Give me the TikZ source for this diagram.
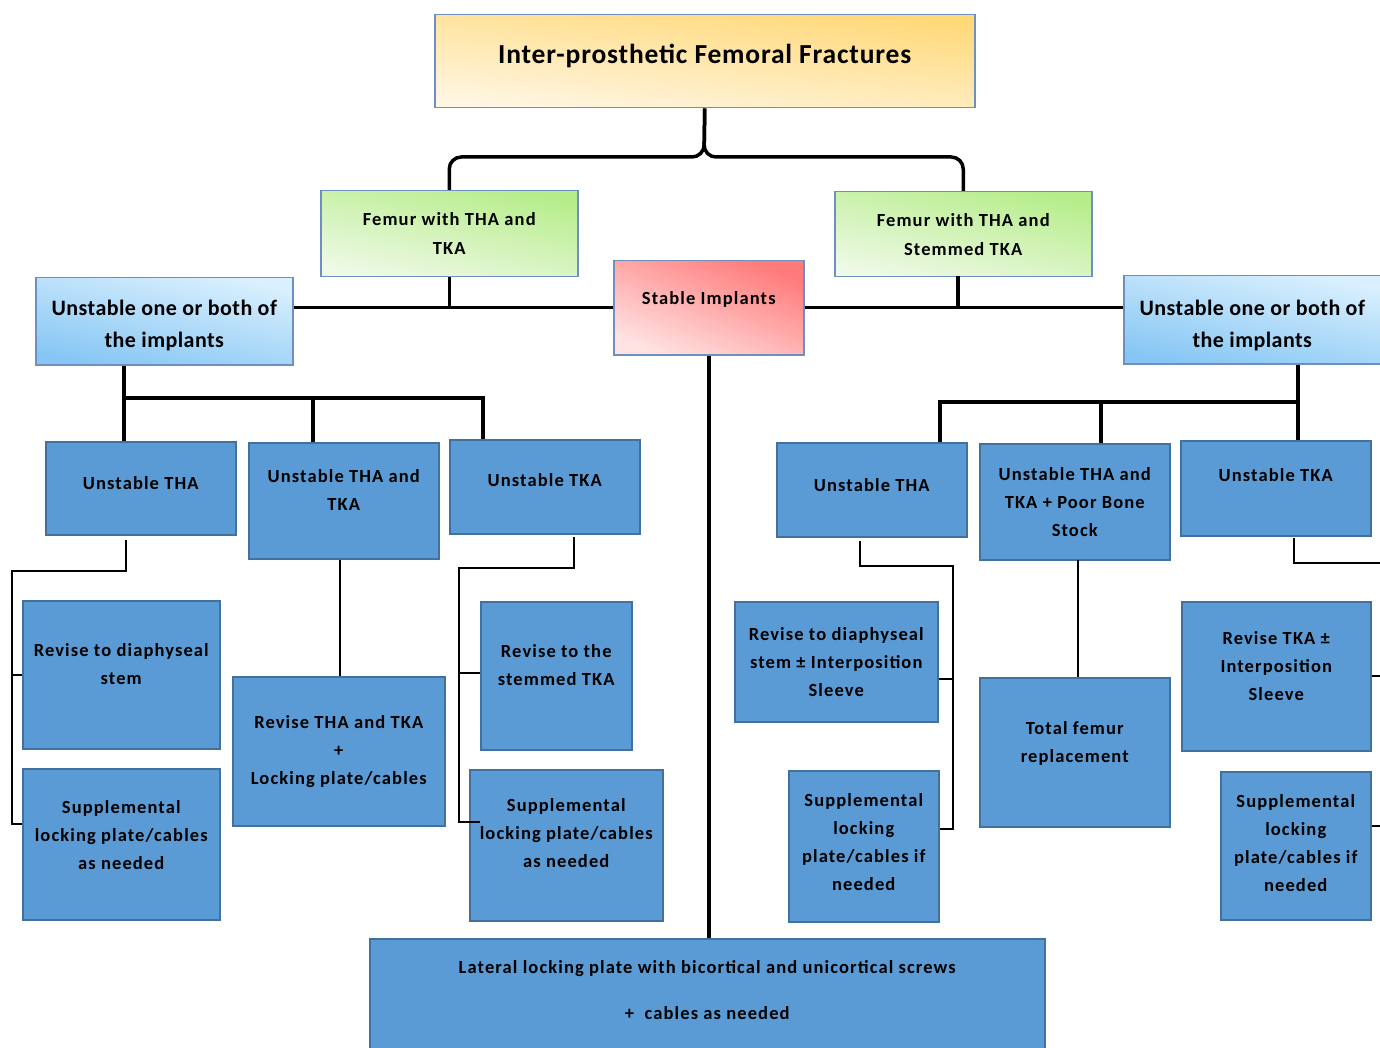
\documentclass[tikz,border=0pt]{standalone}
\usepackage{fontspec}
\setmainfont{Carlito}[LetterSpace=6]
\newfontfamily\titlefont{Carlito}[LetterSpace=3]
\newfontfamily\headfont{Carlito}[LetterSpace=2]
\definecolor{boxblue}{HTML}{5B9BD5}
\definecolor{boxborder}{HTML}{41719C}
\definecolor{gradborder}{HTML}{6F8FC0}
\definecolor{titletop}{HTML}{FFD877}
\definecolor{titlebot}{HTML}{FFF6E4}
\definecolor{greentop}{HTML}{B6ED8A}
\definecolor{greenbot}{HTML}{EEF9E6}
\definecolor{redtop}{HTML}{FF7A7A}
\definecolor{redbot}{HTML}{FFE2E2}
\definecolor{bluetop}{HTML}{DAF0FE}
\definecolor{bluebot}{HTML}{86C6F4}
\begin{document}
\begin{tikzpicture}[x=1pt,y=-1pt,
  bx/.style={rectangle, draw=boxborder, line width=1.5pt, fill=boxblue, anchor=north west,
    inner sep=1pt, align=center, font=\bfseries\fontsize{18.5}{28}\selectfont},
  grad/.style={rectangle, draw=gradborder, line width=1.5pt, anchor=north west,
    inner sep=1pt, align=center, font=\bfseries\fontsize{18.5}{29}\selectfont},
  thk/.style={line width=3.5pt, black},
  thn/.style={line width=2.5pt, black}]
\clip (0,0) rectangle (1380,1048);
\fill[white] (0,0) rectangle (1380,1048);

% top level
\node[grad, top color=titletop, bottom color=titlebot, shading angle=-6,
  minimum width=540pt, minimum height=93pt, text depth=14pt,
  font=\titlefont\bfseries\fontsize{27.5}{32}\selectfont] (title) at (434,14) {Inter-prosthetic Femoral Fractures};
\node[grad, top color=greentop, bottom color=greenbot, shading angle=-12,
  minimum width=257pt, minimum height=86pt] (gL) at (320,190) {Femur with THA and\\TKA};
\node[grad, top color=greentop, bottom color=greenbot, shading angle=-12,
  minimum width=257pt, minimum height=85pt] (gR) at (834,191) {Femur with THA and\\Stemmed TKA};
\node[grad, top color=redtop, bottom color=redbot, shading angle=-22,
  minimum width=190pt, minimum height=94pt, text depth=20pt] (stable) at (613,260) {Stable Implants};
\node[grad, top color=bluetop, bottom color=bluebot, shading angle=-12,
  minimum width=257pt, minimum height=87pt, text height=56pt,
  font=\headfont\bfseries\fontsize{22}{32}\selectfont] (ubL) at (35,277) {Unstable one or both of\\the implants};
\node[grad, top color=bluetop, bottom color=bluebot, shading angle=-12,
  minimum width=257pt, minimum height=88pt, text height=58pt,
  font=\headfont\bfseries\fontsize{22}{32}\selectfont] (ubR) at (1123,275) {Unstable one or both of\\the implants};

% third level
\node[bx, minimum width=190pt, minimum height=93pt, text depth=10pt] (uTHAL) at (45,441) {Unstable THA};
\node[bx, minimum width=190pt, minimum height=116pt, text depth=22pt] (uTTL) at (248,442) {Unstable THA and\\TKA};
\node[bx, minimum width=190pt, minimum height=94pt, text depth=14pt] (uTKAL) at (449,439) {Unstable TKA};
\node[bx, minimum width=190pt, minimum height=94pt, text depth=10pt] (uTHAR) at (776,442) {Unstable THA};
\node[bx, minimum width=190pt, minimum height=116pt] (uTTR) at (979,443) {Unstable THA and\\TKA + Poor Bone\\Stock};
\node[bx, minimum width=190pt, minimum height=95pt, text depth=26pt] (uTKAR) at (1180,440) {Unstable TKA};

% fourth level
\node[bx, minimum width=197pt, minimum height=148pt, text depth=22pt] (rdL) at (22,600) {Revise to diaphyseal\\stem};
\node[bx, minimum width=197pt, minimum height=151pt, text depth=18pt] (sL1) at (22,768) {Supplemental\\locking plate/cables\\as needed};
\node[bx, minimum width=212pt, minimum height=149pt] (rtL) at (232,676) {Revise THA and TKA\\+\\Locking plate/cables};
\node[bx, minimum width=151pt, minimum height=148pt, text depth=22pt] (rsL) at (480,601) {Revise to the\\stemmed TKA};
\node[bx, minimum width=193pt, minimum height=151pt, text depth=24pt] (sL2) at (469,769) {Supplemental\\locking plate/cables\\as needed};
\node[bx, minimum width=203pt, minimum height=120pt] (rdR) at (734,601) {Revise to diaphyseal\\stem ± Interposition\\Sleeve};
\node[bx, minimum width=150pt, minimum height=151pt, text depth=8pt] (sR1) at (788,770) {Supplemental\\locking\\plate/cables if\\needed};
\node[bx, minimum width=190pt, minimum height=149pt, text depth=20pt] (tfR) at (979,677) {Total femur\\replacement};
\node[bx, minimum width=189pt, minimum height=149pt, text depth=20pt] (rkR) at (1181,601) {Revise TKA ±\\Interposition\\Sleeve};
\node[bx, minimum width=150pt, minimum height=148pt, text depth=6pt] (sR2) at (1220,771) {Supplemental\\locking\\plate/cables if\\needed};

% bottom
\node[bx, minimum width=675pt, minimum height=130pt, text depth=28pt] (bottom) at (369,938)
  {Lateral locking plate with bicortical and unicortical screws\\[18pt]+\ \ cables as needed};

% ---- thick connectors
\coordinate (br) at (704,157);
\draw[thk, rounded corners=12] (title.south) -- (br) -| (gL.north);
\draw[thk, rounded corners=12] (title.south) -- (br) -| (gR.north);
\draw[thk] (ubL.east |- stable.west) -- (stable.west);
\draw[thk] (gL.south) -- (gL.south |- stable.west);
\draw[thk] (stable.east) -- (ubR.west |- stable.east);
\draw[thk] (958,276) coordinate (gRd) -- (gRd |- stable.east);
\draw[thk] (stable.south) -- (stable.south |- bottom.north);

\coordinate (hL1) at (124,398);
\coordinate (hL2) at (313,398);
\coordinate (hL3) at (483,398);
\draw[thk] (hL1 |- ubL.south) -- (hL1 |- uTHAL.north);
\draw[thk] (hL1) -- (hL3) -- (hL3 |- uTKAL.north);
\draw[thk] (hL2) -- (hL2 |- uTTL.north);

\coordinate (hR1) at (940,402);
\coordinate (hR2) at (1101,402);
\coordinate (hR3) at (1298,402);
\draw[thk] (hR3 |- ubR.south) -- (hR3 |- uTKAR.north);
\draw[thk] (hR3) -- (hR1) -- (hR1 |- uTHAR.north);
\draw[thk] (hR2) -- (hR2 |- uTTR.north);

% ---- thin connectors
\coordinate (a1) at (126,540);
\coordinate (a2) at (12,571);
\draw[thn] (a1) |- (a2) -- (12,824) coordinate (a3) -- (a3 -| sL1.west);
\draw[thn] (12,675) coordinate (a4) -- (a4 -| rdL.west);

\draw[thn] (340,560) coordinate (m1) -- (m1 |- rtL.north);

\coordinate (b1) at (574,537);
\coordinate (b2) at (459,568);
\draw[thn] (b1) |- (b2) -- (459,822) coordinate (b3) -- (480,822);
\draw[thn] (459,673) coordinate (b4) -- (b4 -| rsL.west);

\coordinate (c1) at (860,541);
\coordinate (c2) at (953,566);
\draw[thn] (c1) |- (c2) -- (953,829) coordinate (c3) -- (c3 -| sR1.east);
\draw[thn] (953,679) coordinate (c4) -- (c4 -| rdR.east);

\draw[thn] (1078,560) coordinate (m2) -- (m2 |- tfR.north);

\coordinate (d1) at (1294,538);
\draw[thn] (d1) |- (1390,563) coordinate (d2);
\draw[thn] (rkR.east |- 0,676) -- (1390,676);
\draw[thn] (sR2.east |- 0,826) -- (1390,826);
\end{tikzpicture}
\end{document}
